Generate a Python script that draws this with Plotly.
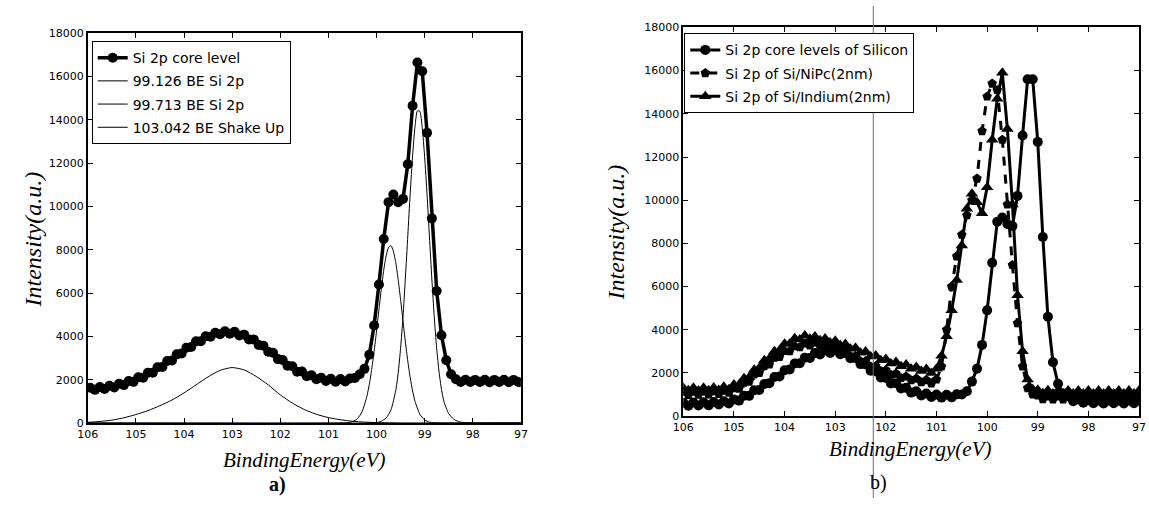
import numpy as np
import plotly.graph_objects as go

# ---------------- Panel a) : Si 2p core level + fitted components ----------------
core_x = np.round(np.linspace(105.95, 97.05, 90), 2)
core_y = (
    [1630, 1530, 1660, 1570, 1720, 1640, 1810, 1750, 1940, 1900]      # 105.95-105.05
    + [2110, 2090, 2320, 2320, 2570, 2590, 2860, 2890, 3170, 3210]    # 104.95-104.05
    + [3480, 3510, 3770, 3780, 4010, 3980, 4170, 4100, 4240, 4120]    # 103.95-103.05
    + [4210, 4040, 4080, 3860, 3860, 3600, 3570, 3290, 3240, 2950]    # 102.95-102.05
    + [2910, 2640, 2620, 2370, 2380, 2160, 2200, 2020, 2090, 1940]    # 101.95-101.05
    + [2040, 1910, 2030, 1920, 2060, 2080, 2250, 2500, 3150, 4500]    # 100.95-100.05
    + [6400, 8500, 10200, 10550, 10200, 10350, 11950, 14650, 16650, 16250]  # 99.95-99.05
    + [13400, 9450, 6100, 4050, 2900, 2250, 2020, 1890, 2000, 1890]   # 98.95-98.05
    + [1990, 1890, 2000, 1880, 1990, 1890, 2000, 1880, 1990, 1890]    # 97.95-97.05
)

fit1_x = [106.0, 100.2, 100.0, 99.9, 99.8, 99.7, 99.6, 99.55, 99.5, 99.45,
          99.4, 99.35, 99.3, 99.25, 99.2, 99.15, 99.1, 99.05, 99.0, 98.95,
          98.9, 98.85, 98.8, 98.75, 98.7, 98.65, 98.6, 98.5, 98.4, 98.3,
          98.2, 98.0, 97.0]
fit1_y = [0, 0, 20, 80, 230, 600, 1500, 2300, 3450, 4900,
          6700, 8650, 10600, 12350, 13700, 14420, 14400, 13650, 12300, 10550,
          8600, 6650, 4900, 3450, 2350, 1550, 1000, 430, 180, 70,
          20, 0, 0]

fit2_x = [106.0, 100.8, 100.6, 100.5, 100.4, 100.3, 100.2, 100.15, 100.1, 100.05,
          100.0, 99.95, 99.9, 99.85, 99.8, 99.75, 99.7, 99.65, 99.6, 99.55,
          99.5, 99.45, 99.4, 99.35, 99.3, 99.25, 99.2, 99.1, 99.0, 98.9,
          98.8, 98.6, 97.0]
fit2_y = [0, 0, 15, 58, 190, 520, 1230, 1780, 2480, 3300,
          4240, 5230, 6200, 7060, 7720, 8110, 8190, 7940, 7400, 6630,
          5700, 4720, 3740, 2860, 2100, 1480, 1000, 405, 140, 40,
          10, 0, 0]

fit3_x = [106.0, 105.75, 105.5, 105.25, 105.0, 104.75, 104.5, 104.25, 104.0, 103.75,
          103.5, 103.25, 103.0, 102.75, 102.5, 102.25, 102.0, 101.75, 101.5, 101.25,
          101.0, 100.75, 100.5, 100.25, 100.0, 99.5, 99.0, 97.0]
fit3_y = [30, 70, 130, 240, 390, 570, 800, 1060, 1390, 1760,
          2130, 2430, 2560, 2450, 2150, 1760, 1300, 920, 620, 400,
          250, 150, 80, 40, 20, 5, 0, 0]

names_a = ["Si 2p core level", "99.126 BE Si 2p", "99.713 BE Si 2p", "103.042 BE Shake Up"]

# ---------------- Panel b) : three Si 2p spectra ----------------
be_x = np.round(np.linspace(106.0, 97.0, 91), 1)
si_y = (
    [620, 480, 630, 490, 640, 500, 650, 540, 690, 590]                 # 106.0-105.1
    + [770, 720, 950, 940, 1200, 1210, 1490, 1520, 1810, 1840]         # 105.0-104.1
    + [2130, 2160, 2440, 2450, 2710, 2690, 2920, 2860, 3040, 2930]     # 104.0-103.1
    + [3050, 2870, 2920, 2680, 2680, 2410, 2390, 2100, 2070, 1790]     # 103.0-102.1
    + [1770, 1510, 1520, 1280, 1310, 1090, 1150, 960, 1050, 890]       # 102.0-101.1
    + [1000, 860, 990, 870, 1010, 1000, 1150, 1600, 2200, 3300]        # 101.0-100.1
    + [4900, 7100, 9000, 9200, 8900, 8800, 10200, 13000, 15600, 15600]  # 100.0-99.1
    + [12700, 8300, 4600, 2500, 1500, 1050, 910, 690, 770, 620]        # 99.0-98.1
    + [740, 600, 720, 590, 730, 600, 720, 590, 730, 600]               # 98.0-97.1
    + [720]                                                             # 97.0
)
nipc_y = (
    [1120, 980, 1130, 990, 1140, 1000, 1150, 1030, 1180, 1090]
    + [1290, 1270, 1550, 1600, 1930, 2000, 2330, 2400, 2710, 2740]
    + [3020, 3010, 3240, 3190, 3370, 3270, 3410, 3260, 3350, 3160]
    + [3210, 2990, 3020, 2780, 2790, 2540, 2550, 2300, 2320, 2090]
    + [2130, 1920, 1970, 1770, 1840, 1660, 1740, 1570, 1670, 1520]
    + [1700, 2300, 4000, 6000, 7400, 8400, 9300, 10000, 11000, 13200]
    + [14800, 15400, 15100, 12800, 9800, 7000, 4300, 2300, 1300, 1000]
    + [960, 790, 910, 770, 910, 770, 910, 770, 910, 770]
    + [910, 770, 910, 770, 910, 770, 910, 770, 910, 770]
    + [910]
)
indium_y = (
    [1320, 1200, 1310, 1190, 1320, 1200, 1330, 1210, 1360, 1250]
    + [1470, 1450, 1750, 1800, 2150, 2230, 2590, 2670, 3010, 3050]
    + [3350, 3350, 3610, 3550, 3730, 3580, 3690, 3510, 3600, 3410]
    + [3490, 3280, 3340, 3120, 3170, 2940, 2990, 2760, 2810, 2590]
    + [2650, 2440, 2510, 2310, 2390, 2190, 2280, 2090, 2180, 2000]
    + [2200, 2800, 3700, 4900, 6300, 7900, 9600, 10300, 9900, 9400]
    + [10600, 12800, 14700, 15900, 13300, 9800, 5600, 3000, 1700, 1250]
    + [1220, 1060, 1200, 1050, 1190, 1050, 1190, 1050, 1190, 1050]
    + [1190, 1050, 1190, 1050, 1190, 1050, 1190, 1050, 1190, 1050]
    + [1190]
)
names_b = ["Si 2p core levels of Silicon", "Si 2p of Si/NiPc(2nm)", "Si 2p of Si/Indium(2nm)"]

x_ticks = [106, 105, 104, 103, 102, 101, 100, 99, 98, 97]
x_ticktext = ["106", "105", "104", "103", "102", "101", "100", "99", "98", "97"]
y_ticks = [0, 2000, 4000, 6000, 8000, 10000, 12000, 14000, 16000, 18000]
y_ticktext = ["0", "2000", "4000", "6000", "8000", "10000", "12000", "14000", "16000", "18000"]

# ---------------- Figure ----------------
fig = go.Figure()
BLACK = "black"

fig.add_trace(go.Scatter(x=core_x, y=core_y, name=names_a[0], mode="lines+markers",
                         line=dict(color=BLACK, width=3.5),
                         marker=dict(symbol="circle", size=10, color=BLACK),
                         xaxis="x", yaxis="y", legend="legend", legendgroup="a0"))
for i, (fx, fy) in enumerate([(fit1_x, fit1_y), (fit2_x, fit2_y), (fit3_x, fit3_y)]):
    fig.add_trace(go.Scatter(x=fx, y=fy, name=names_a[i + 1], mode="lines",
                             line=dict(color=BLACK, width=1, shape="spline", smoothing=0.6),
                             xaxis="x", yaxis="y", legend="legend", legendgroup=f"a{i+1}"))

fig.add_trace(go.Scatter(x=be_x, y=si_y, name=names_b[0], mode="lines+markers",
                         line=dict(color=BLACK, width=3),
                         marker=dict(symbol="circle", size=10, color=BLACK),
                         xaxis="x2", yaxis="y2", legend="legend2", legendgroup="b0"))
fig.add_trace(go.Scatter(x=be_x, y=nipc_y, name=names_b[1], mode="lines+markers",
                         line=dict(color=BLACK, width=3, dash="dash"),
                         marker=dict(symbol="pentagon", size=10, color=BLACK),
                         xaxis="x2", yaxis="y2", legend="legend2", legendgroup="b1"))
fig.add_trace(go.Scatter(x=be_x, y=indium_y, name=names_b[2], mode="lines+markers",
                         line=dict(color=BLACK, width=3),
                         marker=dict(symbol="triangle-up", size=11, color=BLACK),
                         xaxis="x2", yaxis="y2", legend="legend2", legendgroup="b2"))

W, H = 1149, 505
tickfont = dict(family="DejaVu Sans", size=11, color=BLACK)
axis_common = dict(showline=True, linecolor=BLACK, linewidth=1.5, mirror="allticks",
                   ticks="inside", ticklen=5, tickwidth=1, tickcolor=BLACK,
                   showgrid=False, zeroline=False, tickfont=tickfont)

fig.update_layout(
    width=W, height=H,
    margin=dict(l=0, r=0, t=0, b=0),
    paper_bgcolor="white", plot_bgcolor="white",
    xaxis=dict(domain=[78 / W, 518 / W], range=[106, 97], tickvals=x_ticks,
               ticktext=x_ticktext, anchor="y", **axis_common),
    yaxis=dict(domain=[1 - 428 / H, 1 - 28 / H], range=[0, 18000], tickvals=y_ticks,
               ticktext=y_ticktext, anchor="x", **axis_common),
    xaxis2=dict(domain=[683 / W, 1146 / W], range=[106, 97], tickvals=x_ticks,
                ticktext=x_ticktext, anchor="y2", **axis_common),
    yaxis2=dict(domain=[1 - 421 / H, 1 - 22 / H], range=[0, 18000], tickvals=y_ticks,
                ticktext=y_ticktext, anchor="x2", **axis_common),
    legend=dict(x=82 / W, y=1 - 36 / H, xanchor="left", yanchor="top",
                bordercolor=BLACK, borderwidth=1, bgcolor="white",
                font=dict(family="DejaVu Sans", size=14, color=BLACK),
                traceorder="grouped", tracegroupgap=2),
    legend2=dict(x=684 / W, y=1 - 28 / H, xanchor="left", yanchor="top",
                 bordercolor=BLACK, borderwidth=1, bgcolor="white",
                 font=dict(family="DejaVu Sans", size=14, color=BLACK),
                 traceorder="grouped", tracegroupgap=2),
    showlegend=True,
)

ytitle_font = dict(family="Liberation Serif", size=24, color=BLACK, style="italic")
xtitle_font = dict(family="Liberation Serif", size=21, color=BLACK, style="italic")
ann = [
    dict(text="Intensity(a.u.)", x=22 / W, y=1 - 240 / H, textangle=-90, font=ytitle_font),
    dict(text="Intensity(a.u.)", x=615 / W, y=1 - 232 / H, textangle=-90, font=ytitle_font),
    dict(text="BindingEnergy(eV)", x=298 / W, y=1 - 466 / H, font=xtitle_font),
    dict(text="BindingEnergy(eV)", x=914 / W, y=1 - 455 / H, font=xtitle_font),
    dict(text="<b>a)</b>", x=271 / W, y=1 - 491 / H,
         font=dict(family="Liberation Serif", size=20, color=BLACK)),
    dict(text="b)", x=881 / W, y=1 - 489 / H,
         font=dict(family="Liberation Serif", size=20, color=BLACK)),
]
for a in ann:
    fig.add_annotation(xref="paper", yref="paper", showarrow=False,
                       xanchor="center", yanchor="middle", **a)

# thin grey scan line crossing panel b)
fig.add_shape(type="line", xref="paper", yref="paper", x0=876 / W, x1=876 / W, y0=0, y1=1,
              line=dict(color="rgb(110,110,110)", width=1))

fig.write_html("out.html")
